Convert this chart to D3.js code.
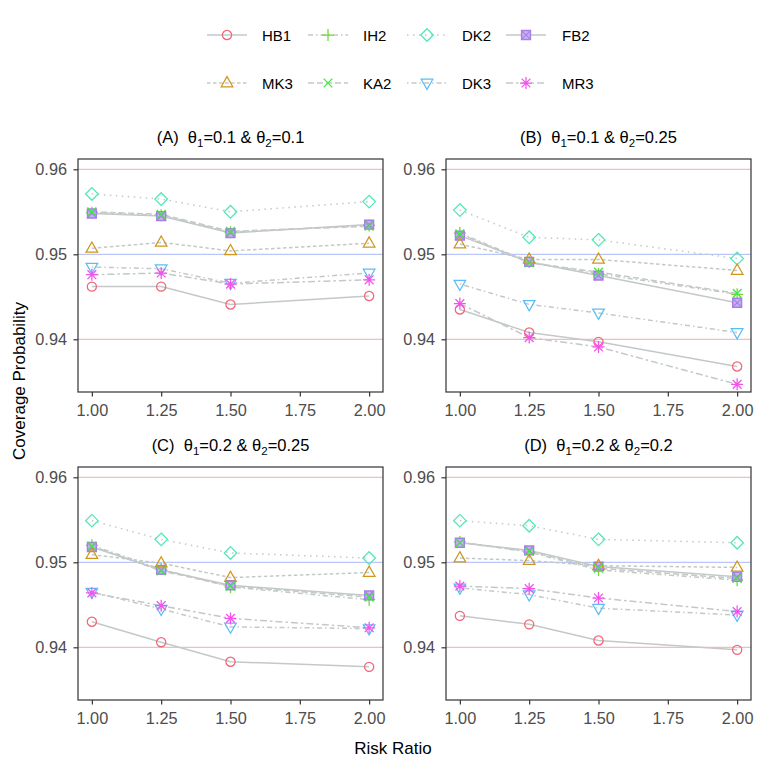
<!DOCTYPE html>
<html><head><meta charset="utf-8">
<script src="https://cdn.jsdelivr.net/npm/d3@7"></script>
<style>body{margin:0;background:#fff}svg{display:block}text{font-family:"Liberation Sans",Arial,Helvetica,sans-serif}</style>
</head><body>
<script>
const methods = ["HB1","IH2","DK2","FB2","MK3","KA2","DK3","MR3"];
const riskRatios = [1.00, 1.25, 1.50, 2.00];
const xTicks = [1.00, 1.25, 1.50, 1.75, 2.00];
const yTicks = [0.94, 0.95, 0.96];
const panelTitles = [
  ["(A)  ", "0.1", "0.1"],
  ["(B)  ", "0.1", "0.25"],
  ["(C)  ", "0.2", "0.25"],
  ["(D)  ", "0.2", "0.2"]
];
// rows follow methods order
const valuesA = [
  [0.9462,0.9462,0.9441,0.9451],
  [0.9549,0.9546,0.9526,0.9534],
  [0.9571,0.9565,0.9550,0.9562],
  [0.9548,0.9545,0.9525,0.9535],
  [0.9507,0.9514,0.9504,0.9513],
  [0.9550,0.9547,0.9527,0.9533],
  [0.9485,0.9483,0.9466,0.9478],
  [0.9476,0.9478,0.9465,0.9470]
];
const valuesB = [
  [0.9435,0.9408,0.9397,0.9368],
  [0.9525,0.9491,0.9477,0.9453],
  [0.9552,0.9520,0.9517,0.9495],
  [0.9522,0.9491,0.9475,0.9443],
  [0.9512,0.9494,0.9494,0.9481],
  [0.9524,0.9490,0.9479,0.9454],
  [0.9465,0.9441,0.9431,0.9408],
  [0.9442,0.9402,0.9391,0.9347]
];
const valuesC = [
  [0.9430,0.9406,0.9383,0.9377],
  [0.9520,0.9492,0.9471,0.9456],
  [0.9549,0.9527,0.9511,0.9505],
  [0.9518,0.9491,0.9473,0.9461],
  [0.9509,0.9499,0.9482,0.9488],
  [0.9519,0.9490,0.9472,0.9459],
  [0.9465,0.9445,0.9424,0.9422],
  [0.9464,0.9449,0.9434,0.9423]
];
const valuesD = [
  [0.9437,0.9427,0.9408,0.9397],
  [0.9524,0.9512,0.9491,0.9479],
  [0.9549,0.9543,0.9527,0.9523],
  [0.9523,0.9514,0.9495,0.9483],
  [0.9505,0.9502,0.9496,0.9494],
  [0.9523,0.9513,0.9493,0.9481],
  [0.9470,0.9462,0.9446,0.9438],
  [0.9472,0.9469,0.9458,0.9442]
];
const panelValues = [valuesA, valuesB, valuesC, valuesD];

const colors = {HB1:"#F2657A", IH2:"#6CD92C", DK2:"#4FE8BA", FB2:"#A67FE8", MK3:"#CF961E", KA2:"#40E840", DK3:"#5BBDF8", MR3:"#F452EA"};
const dashes = {HB1:null, IH2:"5,3,1.5,3", DK2:"1.5,4.5", FB2:null, MK3:"3.5,2.5", KA2:"6,3", DK3:"1.5,3,5,3", MR3:"7,3,2.5,3"};
const lineColor = "#C3C9C8";

const W = 761, H = 761;
const svg = d3.select("body").append("svg").attr("width", W).attr("height", H);

const panels = [
  {x0:78, x1:383, y0:159, y1:392},
  {x0:446, x1:751, y0:159, y1:392},
  {x0:78, x1:383, y0:467, y1:700},
  {x0:446, x1:751, y0:467, y1:700}
];

function drawMarker(g, m, cx, cy) {
  const c = colors[m];
  const s = g.append("g").attr("transform", `translate(${cx},${cy})`)
    .attr("fill","none").attr("stroke", c).attr("stroke-width", 1.25);
  if (m === "HB1") s.append("circle").attr("r", 4.6);
  else if (m === "IH2") s.append("path").attr("d","M-6,0H6M0,-6V6");
  else if (m === "DK2") s.append("path").attr("d","M0,-6.3L6.3,0L0,6.3L-6.3,0Z");
  else if (m === "FB2") { s.append("path").attr("d","M-4.4,-4.4H4.4V4.4H-4.4Z").attr("fill","#C9B3F2").attr("stroke-width",1.5); s.append("path").attr("d","M-4.4,-4.4L4.4,4.4M4.4,-4.4L-4.4,4.4"); }
  else if (m === "MK3") s.append("path").attr("d","M0,-6.4L5.8,3.8L-5.8,3.8Z");
  else if (m === "KA2") s.append("path").attr("d","M-4.4,-4.4L4.4,4.4M4.4,-4.4L-4.4,4.4");
  else if (m === "DK3") s.append("path").attr("d","M0,6.4L5.8,-3.8L-5.8,-3.8Z");
  else if (m === "MR3") s.append("path").attr("d","M-6,0H6M0,-6V6M-4.4,-4.4L4.4,4.4M4.4,-4.4L-4.4,4.4");
}

panels.forEach((p, i) => {
  const x = d3.scaleLinear().domain([0.95, 2.05]).range([p.x0, p.x1]);
  const y = d3.scaleLinear().domain([0.93380, 0.961212]).range([p.y1, p.y0]);
  const g = svg.append("g");
  yTicks.forEach(t => {
    g.append("line").attr("x1", p.x0).attr("x2", p.x1).attr("y1", y(t)).attr("y2", y(t))
      .attr("stroke", t === 0.95 ? "#9FB0F8" : "#F2A3A0").attr("stroke-width", 0.9);
  });
  const vals = panelValues[i];
  const line = d3.line().x(d => x(d[0])).y(d => y(d[1]));
  methods.forEach((m, k) => {
    const pts = riskRatios.map((r, j) => [r, vals[k][j]]);
    g.append("path").attr("d", line(pts)).attr("fill","none").attr("stroke", lineColor)
      .attr("stroke-width", 1.5).attr("stroke-dasharray", dashes[m]);
  });
  methods.forEach((m, k) => {
    riskRatios.forEach((r, j) => drawMarker(g, m, x(r), y(vals[k][j])));
  });
  g.append("rect").attr("x", p.x0).attr("y", p.y0).attr("width", p.x1 - p.x0).attr("height", p.y1 - p.y0)
    .attr("fill","none").attr("stroke","#333").attr("stroke-width", 1.2);
  const ya = g.append("g").attr("transform", `translate(${p.x0},0)`)
    .call(d3.axisLeft(y).tickValues(yTicks).tickFormat(d3.format(".2f")).tickSize(4.5).tickPadding(6.5));
  ya.select(".domain").remove();
  ya.selectAll("line").attr("stroke","#333").attr("stroke-width",1.2);
  ya.selectAll("text").attr("font-size", 16.3).attr("fill","#4D4D4D")
    .attr("font-family", '"Liberation Sans",Arial,sans-serif');
  const xa = g.append("g").attr("transform", `translate(0,${p.y1})`)
    .call(d3.axisBottom(x).tickValues(xTicks).tickFormat(d3.format(".2f")).tickSize(4.5).tickPadding(7.5));
  xa.select(".domain").remove();
  xa.selectAll("line").attr("stroke","#333").attr("stroke-width",1.2);
  xa.selectAll("text").attr("font-size", 16.3).attr("fill","#4D4D4D")
    .attr("font-family", '"Liberation Sans",Arial,sans-serif');
  const t = panelTitles[i];
  const tt = g.append("text").attr("x", (p.x0 + p.x1) / 2).attr("y", p.y0 - 16.5)
    .attr("text-anchor","middle").attr("font-size", 16.5).attr("fill","#000")
    .style("white-space","pre");
  tt.append("tspan").text(t[0] + "θ");
  tt.append("tspan").attr("font-size", 11.5).attr("dy", 4).text("1");
  tt.append("tspan").attr("dy", -4).text("=" + t[1] + " & θ");
  tt.append("tspan").attr("font-size", 11.5).attr("dy", 4).text("2");
  tt.append("tspan").attr("dy", -4).text("=" + t[2]);
});

svg.append("text").attr("x", 393).attr("y", 754).attr("text-anchor","middle")
  .attr("font-size", 17).text("Risk Ratio");
svg.append("text").attr("transform","translate(25,381) rotate(-90)").attr("text-anchor","middle")
  .attr("font-size", 17).text("Coverage Probability");

const keyX = [207, 308, 407, 506];
const labX = [262, 363, 462, 562];
const rowY = [35, 83];
methods.forEach((m, k) => {
  const r = Math.floor(k / 4), c = k % 4;
  const yy = rowY[r];
  svg.append("line").attr("x1", keyX[c]).attr("x2", keyX[c] + 40).attr("y1", yy).attr("y2", yy)
    .attr("stroke", lineColor).attr("stroke-width", 1.5).attr("stroke-dasharray", dashes[m]);
  drawMarker(svg, m, keyX[c] + 20, yy);
  svg.append("text").attr("x", labX[c]).attr("y", yy + 5.5).attr("font-size", 15).text(m);
});
</script>
</body></html>
